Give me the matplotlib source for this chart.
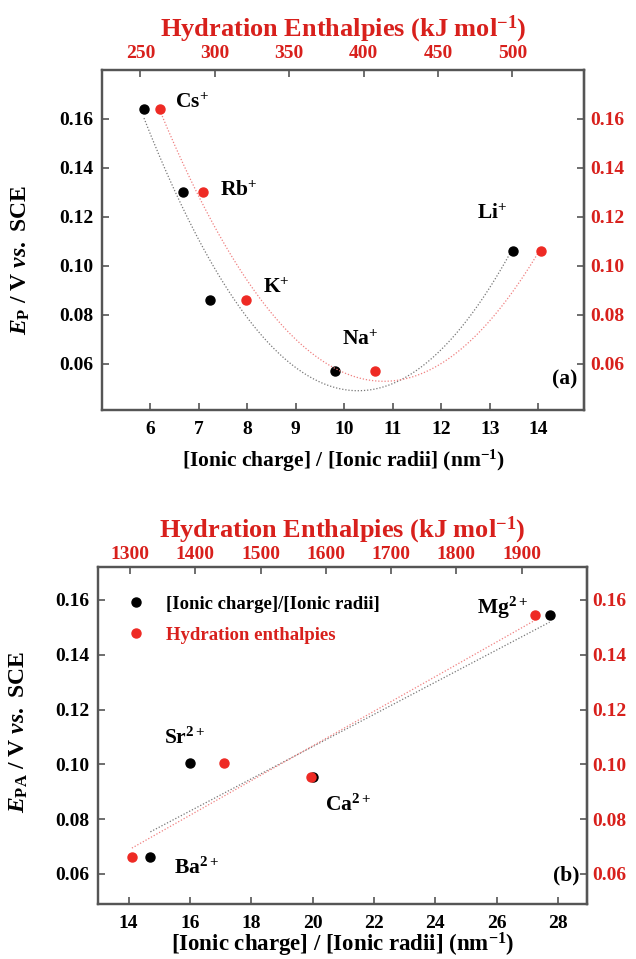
import numpy as np
import matplotlib
matplotlib.use('Agg')
import matplotlib.pyplot as plt

plt.rcParams['font.family'] = ['Liberation Serif', 'DejaVu Serif']
plt.rcParams['font.weight'] = 'bold'
plt.rcParams['mathtext.fontset'] = 'custom'
plt.rcParams['mathtext.rm'] = 'Liberation Serif:bold'
plt.rcParams['mathtext.it'] = 'Liberation Serif:italic:bold'
plt.rcParams['mathtext.bf'] = 'Liberation Serif:bold'

# ---------------- data ----------------
# panel (a): monovalent cations
ions_a = ['Cs$^{+}$', 'Rb$^{+}$', 'K$^{+}$', 'Na$^{+}$', 'Li$^{+}$']
charge_radius_a = [5.87, 6.68, 7.24, 9.80, 13.48]     # nm^-1
hydration_a = [263, 292, 321, 408, 519]               # kJ/mol
ep_a = [0.164, 0.130, 0.086, 0.057, 0.106]            # V vs SCE

# panel (b): divalent cations
ions_b = ['Mg$^{2+}$', 'Sr$^{2+}$', 'Ca$^{2+}$', 'Ba$^{2+}$']
charge_radius_b = [27.73, 16.01, 20.00, 14.71]
hydration_b = [1920, 1444, 1577, 1303]
epa_b = [0.1546, 0.1004, 0.0955, 0.0662]

xticks_a = [6, 7, 8, 9, 10, 11, 12, 13, 14]
xticks_a_top = [250, 300, 350, 400, 450, 500]
xticks_b = [14, 16, 18, 20, 22, 24, 26, 28]
xticks_b_top = [1300, 1400, 1500, 1600, 1700, 1800, 1900]
yticks = [0.06, 0.08, 0.10, 0.12, 0.14, 0.16]

legend_labels = ['[Ionic charge]/[Ionic radii]', 'Hydration enthalpies']

RED = '#d8201c'
DOT_RED = '#ee2a24'
SPINE = '#555555'
TICK_FS = 14

fig = plt.figure(figsize=(6.36, 9.59), dpi=100)


def style_axes(ax, ax_top, top_pad):
    for a in (ax, ax_top):
        for s in a.spines.values():
            s.set_color(SPINE)
            s.set_linewidth(1.6)
    ax.tick_params(axis='both', direction='in', length=5, width=1.2,
                   color=SPINE, labelsize=TICK_FS, pad=8)
    ax.tick_params(axis='y', right=False, pad=6)
    ax.tick_params(axis='x', top=False)
    ax_top.tick_params(axis='x', direction='in', length=5, width=1.2,
                       color=SPINE, labelsize=TICK_FS, labelcolor=RED,
                       pad=top_pad)
    sec = ax.secondary_yaxis('right')
    sec.set_yticks(yticks)
    sec.set_yticklabels([f'{v:.2f}' for v in yticks])
    sec.tick_params(direction='in', length=5, width=1.2, color=SPINE,
                    labelsize=TICK_FS, labelcolor=RED, pad=4)
    sec.spines['right'].set_color(SPINE)
    sec.spines['right'].set_linewidth(1.6)
    ax.set_yticks(yticks)
    ax.set_yticklabels([f'{v:.2f}' for v in yticks])


# ---------------- panel (a) ----------------
axA = fig.add_axes([0.160, 0.5725, 0.759, 0.3545])
axA.set_xlim(5.0, 14.95)
axA.set_ylim(0.041, 0.18)
axA.set_xticks(xticks_a)
axAt = axA.twiny()
axAt.set_xlim(224, 548.5)
axAt.set_xticks(xticks_a_top)
style_axes(axA, axAt, 6)

# quadratic fits
ca = np.polyfit(charge_radius_a, ep_a, 2)
xa = np.linspace(min(charge_radius_a), max(charge_radius_a), 200)
axA.plot(xa, np.polyval(ca, xa), ls=(0, (1, 1.5)), color='#777777', lw=0.9)
ha = np.polyfit(hydration_a, ep_a, 2)
xh = np.linspace(min(hydration_a), max(hydration_a), 200)
axAt.plot(xh, np.polyval(ha, xh), ls=(0, (1, 1.5)), color='#f08080', lw=0.9)

axA.plot(charge_radius_a, ep_a, 'o', color='black', ms=6.5, zorder=5)
axAt.plot(hydration_a, ep_a, 'o', color=DOT_RED, ms=6.5, zorder=5)

offs_a = [(31, 6), (37, 1), (53, 12), (7, 31), (-36, 37)]
for lab, x, y, off in zip(ions_a, charge_radius_a, ep_a, offs_a):
    axA.annotate(lab, (x, y), xytext=off, textcoords='offset pixels',
                 fontsize=15.5, fontweight='bold', va='center', ha='left')

axA.text(0.985, 0.09, '(a)', transform=axA.transAxes, fontsize=15.5,
         fontweight='bold', ha='right', va='center')
axA.set_xlabel('[Ionic charge] / [Ionic radii] (nm$^{-1}$)', fontsize=15.5,
               fontweight='bold', labelpad=7)
axA.set_ylabel('$E_{\\rm P}$ / V $vs.$ SCE', fontsize=17, fontweight='bold')
axA.yaxis.set_label_coords(-0.145, 0.44)
axAt.set_xlabel('Hydration Enthalpies (kJ mol$^{-1}$)', fontsize=19,
                fontweight='bold', color=RED, labelpad=6)

# ---------------- panel (b) ----------------
axB = fig.add_axes([0.154, 0.0573, 0.769, 0.3514])
axB.set_xlim(13.0, 28.95)
axB.set_ylim(0.049, 0.172)
axB.set_xticks(xticks_b)
axBt = axB.twiny()
axBt.set_xlim(1251, 2000)
axBt.set_xticks(xticks_b_top)
style_axes(axB, axBt, 3)

cb = np.polyfit(charge_radius_b, epa_b, 1)
xb = np.linspace(min(charge_radius_b), max(charge_radius_b), 100)
axB.plot(xb, np.polyval(cb, xb), ls=(0, (1, 1.5)), color='#777777', lw=0.9)
hb = np.polyfit(hydration_b, epa_b, 1)
xhb = np.linspace(min(hydration_b), max(hydration_b), 100)
axBt.plot(xhb, np.polyval(hb, xhb), ls=(0, (1, 1.5)), color='#f08080', lw=0.9)

lb, = axB.plot(charge_radius_b, epa_b, 'o', color='black', ms=6.5, zorder=5)
lr, = axBt.plot(hydration_b, epa_b, 'o', color=DOT_RED, ms=6.5, zorder=6)

offs_b = [(-73, 7), (-26, 25), (12, -29), (24, -11)]
for lab, x, y, off in zip(ions_b, charge_radius_b, epa_b, offs_b):
    axB.annotate(lab, (x, y), xytext=off, textcoords='offset pixels',
                 fontsize=15.5, fontweight='bold', va='center', ha='left')

leg = axBt.legend([lb, lr], legend_labels, loc='upper left',
                  bbox_to_anchor=(0.055, 0.915), frameon=False,
                  prop={'size': 13.5, 'weight': 'bold'}, handlelength=1.2,
                  handletextpad=1.0, labelspacing=0.75, borderpad=0,
                  borderaxespad=0)
leg.get_texts()[0].set_color('black')
leg.get_texts()[1].set_color(RED)

axB.text(0.985, 0.085, '(b)', transform=axB.transAxes, fontsize=15.5,
         fontweight='bold', ha='right', va='center')
axB.set_xlabel('[Ionic charge] / [Ionic radii] (nm$^{-1}$)', fontsize=16.5,
               fontweight='bold', labelpad=-1)
axB.set_ylabel('$E_{\\rm PA}$ / V $vs.$ SCE', fontsize=17, fontweight='bold')
axB.yaxis.set_label_coords(-0.139, 0.51)
axBt.set_xlabel('Hydration Enthalpies (kJ mol$^{-1}$)', fontsize=19,
                fontweight='bold', color=RED, labelpad=6)

fig.savefig('out.png', dpi=100)
